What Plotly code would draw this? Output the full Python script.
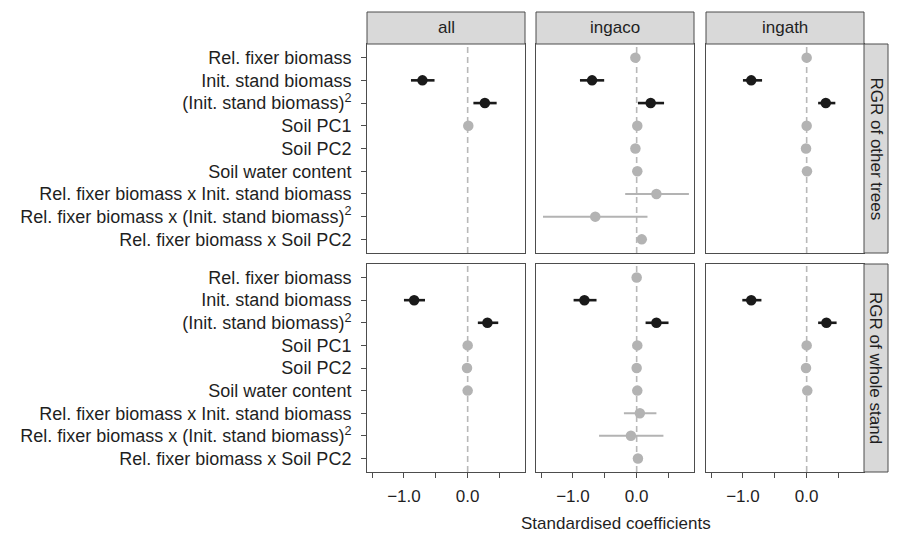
import plotly.graph_objects as go

terms = ["Rel. fixer biomass", "Init. stand biomass", "(Init. stand biomass)<sup>2</sup>",
         "Soil PC1", "Soil PC2", "Soil water content",
         "Rel. fixer biomass x Init. stand biomass",
         "Rel. fixer biomass x (Init. stand biomass)<sup>2</sup>",
         "Rel. fixer biomass x Soil PC2"]
species = ["all", "ingaco", "ingath"]
responses = ["RGR of other trees", "RGR of whole stand"]

# significance flags (1 = CI excludes zero, drawn black)
sig_terms = [0, 1, 1, 0, 0, 0, 0, 0, 0]

# RGR of other trees
est_other_all = [None, -0.71, 0.27, 0.01, None, None, None, None, None]
lo_other_all = [None, -0.89, 0.09, -0.01, None, None, None, None, None]
hi_other_all = [None, -0.52, 0.455, 0.03, None, None, None, None, None]

est_other_ingaco = [-0.02, -0.70, 0.22, 0.01, -0.02, 0.01, 0.31, -0.65, 0.08]
lo_other_ingaco = [-0.04, -0.89, 0.02, -0.01, -0.04, -0.01, -0.18, -1.47, 0.03]
hi_other_ingaco = [0.00, -0.51, 0.43, 0.03, 0.00, 0.03, 0.82, 0.17, 0.13]

est_other_ingath = [0.00, -0.87, 0.30, 0.00, -0.01, 0.005, None, None, None]
lo_other_ingath = [-0.02, -1.00, 0.18, -0.02, -0.03, -0.015, None, None, None]
hi_other_ingath = [0.02, -0.70, 0.45, 0.02, 0.01, 0.025, None, None, None]

# RGR of whole stand
est_whole_all = [None, -0.84, 0.31, 0.00, -0.01, 0.00, None, None, None]
lo_whole_all = [None, -1.00, 0.16, -0.02, -0.03, -0.02, None, None, None]
hi_whole_all = [None, -0.67, 0.48, 0.02, 0.01, 0.02, None, None, None]

est_whole_ingaco = [0.00, -0.82, 0.31, 0.01, 0.00, 0.01, 0.05, -0.09, 0.02]
lo_whole_ingaco = [-0.02, -0.99, 0.14, -0.01, -0.02, -0.01, -0.20, -0.59, 0.00]
hi_whole_ingaco = [0.02, -0.63, 0.50, 0.03, 0.02, 0.03, 0.31, 0.42, 0.04]

est_whole_ingath = [None, -0.87, 0.31, 0.00, -0.01, 0.01, None, None, None]
lo_whole_ingath = [None, -1.01, 0.18, -0.02, -0.03, -0.01, None, None, None]
hi_whole_ingath = [None, -0.71, 0.47, 0.02, 0.01, 0.03, None, None, None]

tick_vals = [-1.0, 0.0]
tick_text = ["\u22121.0", "0.0"]
minor_tick_vals = [-1.5, -0.5, 0.5]

panels = [
    [(est_other_all, lo_other_all, hi_other_all),
     (est_other_ingaco, lo_other_ingaco, hi_other_ingaco),
     (est_other_ingath, lo_other_ingath, hi_other_ingath)],
    [(est_whole_all, lo_whole_all, hi_whole_all),
     (est_whole_ingaco, lo_whole_ingaco, hi_whole_ingaco),
     (est_whole_ingath, lo_whole_ingath, hi_whole_ingath)],
]

W, H = 898, 535
col_px = [(367, 525), (536, 694), (706, 864)]
row_px = [(44, 253), (264, 472)]
strip_top = (12, 44)
strip_right = (864, 888)

def px(x):
    return x / W

def py(y):
    return 1 - y / H

BLACK = "#1a1a1a"
GREY = "#b3b3b3"
FONT = "Liberation Sans, Arial, sans-serif"
TXT = "#1f1f1f"
LINE = "#4d4d4d"

fig = go.Figure()
layout = {}
shapes = []
annotations = []

for r in range(2):
    for c in range(3):
        n = r * 3 + c + 1
        sfx = "" if n == 1 else str(n)
        est, lo, hi = panels[r][c]
        for sig in (0, 1):
            xs, ys, ep, em = [], [], [], []
            for i, t in enumerate(terms):
                if est[i] is None or sig_terms[i] != sig:
                    continue
                xs.append(est[i])
                ys.append(t)
                ep.append(hi[i] - est[i])
                em.append(est[i] - lo[i])
            col = BLACK if sig else GREY
            fig.add_trace(go.Scatter(
                x=xs, y=ys, mode="markers",
                marker=dict(color=col, size=10.5),
                error_x=dict(type="data", symmetric=False, array=ep, arrayminus=em,
                             color=col, thickness=2.6 if sig else 2.0, width=0),
                xaxis="x" + sfx, yaxis="y" + sfx, showlegend=False,
                hoverinfo="x+y"))
        x0, x1 = col_px[c]
        y0, y1 = row_px[r]
        bottom = (r == 1)
        layout["xaxis" + sfx] = dict(
            domain=[px(x0), px(x1)], anchor="y" + sfx, range=[-1.58, 0.9],
            tickvals=tick_vals, ticktext=tick_text,
            showticklabels=bottom, ticks="outside" if bottom else "",
            ticklen=5, tickwidth=1, tickcolor=LINE, ticklabelstandoff=4,
            minor=dict(tickvals=minor_tick_vals, ticks="outside" if bottom else "",
                       ticklen=5, tickwidth=1, tickcolor=LINE, showgrid=False),
            showgrid=False, zeroline=False, showline=True, mirror=True,
            linecolor=LINE, linewidth=1,
            tickfont=dict(family=FONT, size=17, color=TXT))
        layout["yaxis" + sfx] = dict(
            domain=[py(y1), py(y0)], anchor="x" + sfx, type="category",
            categoryarray=terms, categoryorder="array", range=[8.6, -0.6],
            showticklabels=(c == 0), ticks="outside" if c == 0 else "",
            ticklen=5, tickwidth=1, tickcolor=LINE, ticklabelstandoff=6,
            showgrid=False, zeroline=False, showline=True, mirror=True,
            linecolor=LINE, linewidth=1,
            tickfont=dict(family=FONT, size=18, color=TXT))
        shapes.append(dict(type="line", xref="x" + sfx, yref="y" + sfx + " domain",
                           x0=0, x1=0, y0=0, y1=1, layer="below",
                           line=dict(color="#b8b8b8", width=1.6, dash="6px,4px")))

# strips
for c in range(3):
    x0, x1 = col_px[c]
    shapes.append(dict(type="rect", xref="paper", yref="paper",
                       x0=px(x0), x1=px(x1), y0=py(strip_top[1]), y1=py(strip_top[0]),
                       fillcolor="#d9d9d9", line=dict(color=LINE, width=1)))
    annotations.append(dict(text=species[c], xref="paper", yref="paper",
                            x=px((x0 + x1) / 2), y=py((strip_top[0] + strip_top[1]) / 2),
                            showarrow=False, xanchor="center", yanchor="middle",
                            font=dict(family=FONT, size=17, color=TXT)))
for r in range(2):
    y0, y1 = row_px[r]
    shapes.append(dict(type="rect", xref="paper", yref="paper",
                       x0=px(strip_right[0]), x1=px(strip_right[1]), y0=py(y1), y1=py(y0),
                       fillcolor="#d9d9d9", line=dict(color=LINE, width=1)))
    annotations.append(dict(text=responses[r], xref="paper", yref="paper",
                            x=px((strip_right[0] + strip_right[1]) / 2), y=py((y0 + y1) / 2),
                            showarrow=False, xanchor="center", yanchor="middle", textangle=90,
                            font=dict(family=FONT, size=17, color=TXT)))

annotations.append(dict(text="Standardised coefficients", xref="paper", yref="paper",
                        x=px((367 + 864) / 2), y=py(523), showarrow=False,
                        xanchor="center", yanchor="middle",
                        font=dict(family=FONT, size=17, color=TXT)))

fig.update_layout(width=W, height=H, margin=dict(l=0, r=0, t=0, b=0),
                  paper_bgcolor="white", plot_bgcolor="white",
                  shapes=shapes, annotations=annotations, **layout)
fig.write_html("out.html")
